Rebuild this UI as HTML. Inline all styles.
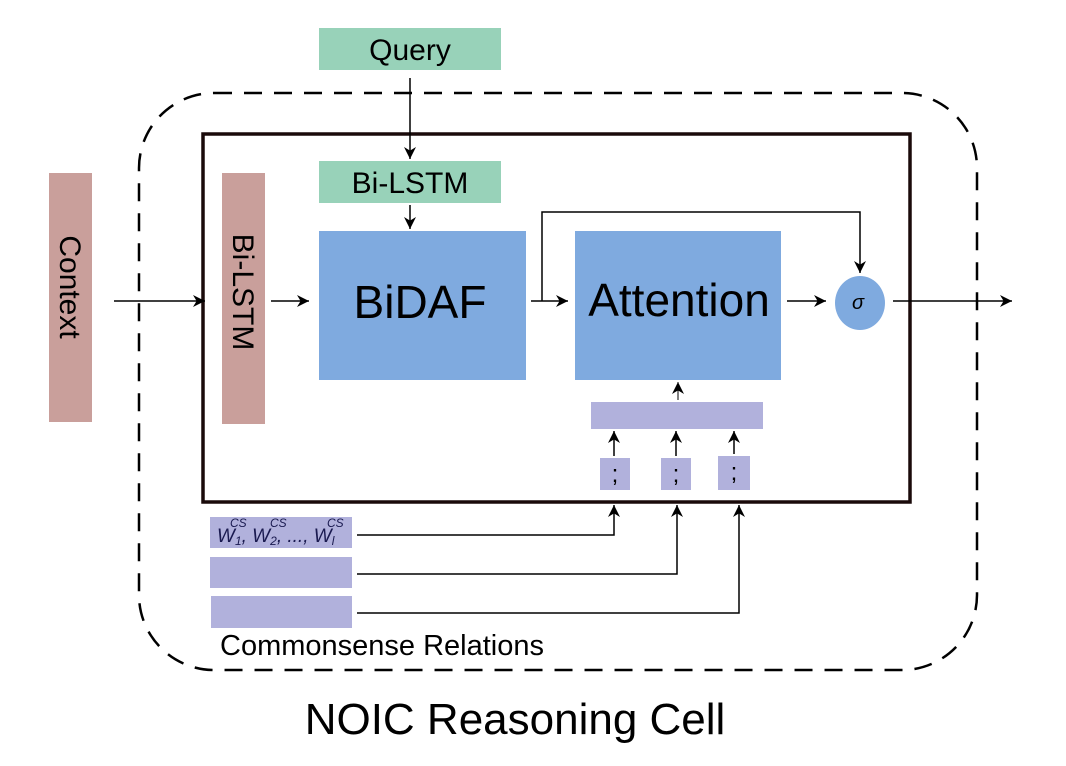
<!DOCTYPE html>
<html><head><meta charset="utf-8"><style>body{margin:0;background:#fff}svg{display:block}text{font-family:"Liberation Sans",sans-serif}</style></head><body>
<svg width="1066" height="766" viewBox="0 0 1066 766" xmlns="http://www.w3.org/2000/svg">
<defs><marker id="a" viewBox="0 0 10 10" refX="10" refY="5" markerWidth="12" markerHeight="12" markerUnits="userSpaceOnUse" orient="auto"><path d="M0,0 L10,5 L0,10 L3,5 z" fill="#000"/></marker></defs>
<rect x="139" y="93" width="838" height="577" rx="75" fill="none" stroke="#000" stroke-width="2.5" stroke-dasharray="18,12"/>
<rect x="203" y="134" width="707" height="368" fill="none" stroke="#1a0a0a" stroke-width="3.5"/>
<rect x="319" y="28" width="182" height="42" fill="#98d2b9"/>
<text x="410" y="60" font-size="30" text-anchor="middle">Query</text>
<rect x="319" y="161" width="182" height="42" fill="#98d2b9"/>
<text x="410" y="193" font-size="30" text-anchor="middle">Bi-LSTM</text>
<rect x="49" y="173" width="43" height="249" fill="#c99f9b"/>
<text transform="translate(60,287) rotate(90)" font-size="30" text-anchor="middle">Context</text>
<rect x="222" y="173" width="43" height="251" fill="#c99f9b"/>
<text transform="translate(233,292) rotate(90)" font-size="30" text-anchor="middle">Bi-LSTM</text>
<rect x="319" y="231" width="207" height="149" fill="#7faadf"/>
<text x="420" y="318" font-size="46" text-anchor="middle">BiDAF</text>
<rect x="575" y="231" width="206" height="149" fill="#7faadf"/>
<text x="679" y="316" font-size="46" text-anchor="middle">Attention</text>
<ellipse cx="860" cy="303" rx="25" ry="27" fill="#7faadf"/>
<text x="858" y="309" font-size="20" font-style="italic" font-family="Liberation Serif" text-anchor="middle">σ</text>
<rect x="591" y="402" width="172" height="27" fill="#b1b1dc"/>
<rect x="600" y="458" width="30" height="32" fill="#b1b1dc"/><text x="615" y="482" font-size="24" text-anchor="middle" font-family="Liberation Serif">;</text>
<rect x="661" y="458" width="30" height="32" fill="#b1b1dc"/><text x="676" y="482" font-size="24" text-anchor="middle" font-family="Liberation Serif">;</text>
<rect x="718" y="456" width="32" height="34" fill="#b1b1dc"/><text x="734" y="480" font-size="24" text-anchor="middle" font-family="Liberation Serif">;</text>
<rect x="210" y="517" width="142" height="31" fill="#b1b1dc"/>
<text x="217" y="542" font-size="19" font-style="italic" font-family="Liberation Serif" fill="#1a1a50">W<tspan font-size="12" dy="3">1</tspan><tspan dy="-3">,  W</tspan><tspan font-size="12" dy="3">2</tspan><tspan dy="-3">, ..., W</tspan><tspan font-size="12" dy="3">l</tspan></text>
<text x="230" y="527" font-size="12" font-style="italic" font-family="Liberation Serif" fill="#1a1a50">CS</text>
<text x="270" y="527" font-size="12" font-style="italic" font-family="Liberation Serif" fill="#1a1a50">CS</text>
<text x="327" y="527" font-size="12" font-style="italic" font-family="Liberation Serif" fill="#1a1a50">CS</text>
<rect x="210" y="557" width="142" height="31" fill="#b1b1dc"/>
<rect x="211" y="596" width="141" height="32" fill="#b1b1dc"/>
<text x="220" y="655" font-size="29">Commonsense Relations</text>
<text x="515" y="734" font-size="44" text-anchor="middle">NOIC Reasoning Cell</text>
<g stroke="#000" stroke-width="1.5" fill="none">
<line x1="410" y1="78" x2="410" y2="159" marker-end="url(#a)"/>
<line x1="410" y1="205" x2="410" y2="229" marker-end="url(#a)"/>
<line x1="114" y1="301" x2="205" y2="301" marker-end="url(#a)"/>
<line x1="271" y1="301" x2="309" y2="301" marker-end="url(#a)"/>
<line x1="531" y1="301" x2="568" y2="301" marker-end="url(#a)"/>
<polyline points="542,301 542,212 860,212 860,273" marker-end="url(#a)"/>
<line x1="787" y1="301" x2="826" y2="301" marker-end="url(#a)"/>
<line x1="893" y1="301" x2="1012" y2="301" marker-end="url(#a)"/>
<line x1="678" y1="400" x2="678" y2="382" stroke-width="1" marker-end="url(#a)"/>
<line x1="614" y1="456" x2="614" y2="431" marker-end="url(#a)"/>
<line x1="676" y1="456" x2="676" y2="431" marker-end="url(#a)"/>
<line x1="734" y1="454" x2="734" y2="431" marker-end="url(#a)"/>
<polyline points="357,535 614,535 614,505" marker-end="url(#a)"/>
<polyline points="357,574 677,574 677,505" marker-end="url(#a)"/>
<polyline points="357,613 739,613 739,505" marker-end="url(#a)"/>
</g>
</svg>
</body></html>
